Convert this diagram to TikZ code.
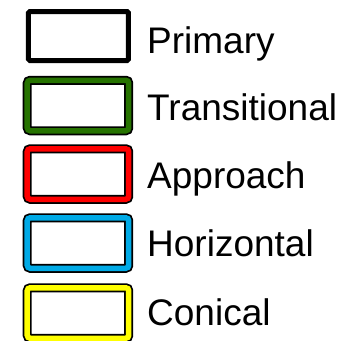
\documentclass[tikz,border=0pt]{standalone}
\usepackage{fontspec}
\setmainfont{Liberation Sans}
\usetikzlibrary{positioning}
\definecolor{transgreen}{RGB}{38,115,0}
\definecolor{approachred}{RGB}{255,0,0}
\definecolor{horizblue}{RGB}{0,170,230}
\definecolor{conicyellow}{RGB}{255,255,0}
\tikzset{
  primarybox/.style={rectangle, rounded corners=1.5pt, draw=black, line width=5pt, minimum width=100pt, minimum height=49pt, inner sep=0pt},
  zonebox/.style={rectangle, rounded corners=3pt, draw=black, line width=1.75pt, double=#1, double distance=5.5pt, minimum width=101.5pt, minimum height=50.5pt, inner sep=0pt},
  zonelabel/.style={anchor=base west, font=\fontsize{37}{44}\selectfont, inner sep=0pt}
}

\begin{document}
\begin{tikzpicture}[x=1pt, y=-1pt]

    % Rahmen
    \useasboundingbox (0,0) rectangle (360,341);

    % Primary
    \node[primarybox] (primary) at (78.5,36) {};
    \node[zonelabel] (primarytxt) at (147,53) {Primary};

    % Farbige Flaechen
    \foreach \name/\col/\yc/\yb/\txt in {
        trans/transgreen/105.5/120/Transitional,
        approach/approachred/174/188/Approach,
        horiz/horizblue/243/256/Horizontal,
        conic/conicyellow/313/325/Conical
    } {
        \node[zonebox=\col] (\name) at (78,\yc) {};
        \node[zonelabel] (\name txt) at (147,\yb) {\txt};
    }

\end{tikzpicture}
\end{document}
